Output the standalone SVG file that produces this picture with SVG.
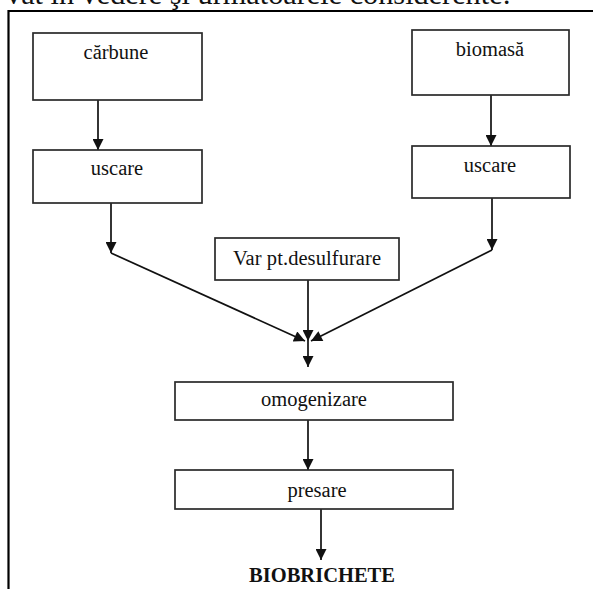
<svg xmlns="http://www.w3.org/2000/svg" width="593" height="589" viewBox="0 0 593 589">
<defs>
<style>
.box{fill:#fff;stroke:#2a2a2a;stroke-width:1.7}
.lbl{font-family:"Liberation Serif","Times New Roman",serif;font-size:20.5px;fill:#111;text-anchor:middle}
.con{stroke:#111;stroke-width:1.7;fill:none;marker-end:url(#ah)}
.frame{stroke:#000;stroke-width:2.2;fill:none}
</style>
<marker id="ah" viewBox="0 0 10 10" refX="10" refY="5" markerWidth="12" markerHeight="11" markerUnits="userSpaceOnUse" orient="auto">
<path d="M0,0 L10,5 L0,10 z" fill="#111"/>
</marker>
</defs>
<rect width="593" height="589" fill="#fff"/>
<text x="6" y="4" font-family="'Liberation Serif','Times New Roman',serif" font-size="29" fill="#111" textLength="505" lengthAdjust="spacingAndGlyphs">vat în vedere şi următoarele considerente:</text>
<path class="frame" d="M8.5,589 V11 H593"/>
<g id="connectors">
<line class="con" x1="98" y1="100" x2="98" y2="150"/>
<line class="con" x1="491" y1="95" x2="491" y2="146"/>
<line class="con" x1="111" y1="203" x2="111" y2="253"/>
<line class="con" x1="492" y1="198" x2="492" y2="250"/>
<line class="con" x1="111" y1="253" x2="305" y2="341"/>
<line class="con" x1="492" y1="250" x2="311" y2="341"/>
<line class="con" x1="308" y1="280" x2="308" y2="341"/>
<line class="con" x1="308" y1="341" x2="308" y2="367"/>
<line class="con" x1="308" y1="420" x2="308" y2="470"/>
<line class="con" x1="321" y1="509" x2="321" y2="560"/>
</g>
<g id="carbune"><rect class="box" x="33" y="33" width="169" height="67"/><text class="lbl" x="116" y="59">cărbune</text></g>
<g id="uscare1"><rect class="box" x="33" y="150" width="169" height="53"/><text class="lbl" x="117" y="175">uscare</text></g>
<g id="biomasa"><rect class="box" x="412" y="30" width="157" height="65"/><text class="lbl" x="490" y="56">biomasă</text></g>
<g id="uscare2"><rect class="box" x="412" y="146" width="158" height="52"/><text class="lbl" x="490" y="172">uscare</text></g>
<g id="var"><rect class="box" x="215" y="238" width="184" height="42"/><text class="lbl" x="307" y="265" textLength="148" lengthAdjust="spacing">Var pt.desulfurare</text></g>
<g id="omogenizare"><rect class="box" x="175" y="382" width="278" height="38"/><text class="lbl" x="314" y="406">omogenizare</text></g>
<g id="presare"><rect class="box" x="175" y="470" width="278" height="39"/><text class="lbl" x="317" y="497">presare</text></g>
<g id="biobrichete"><text class="lbl" x="322" y="582" font-weight="bold" font-size="18.5">BIOBRICHETE</text></g>
</svg>
